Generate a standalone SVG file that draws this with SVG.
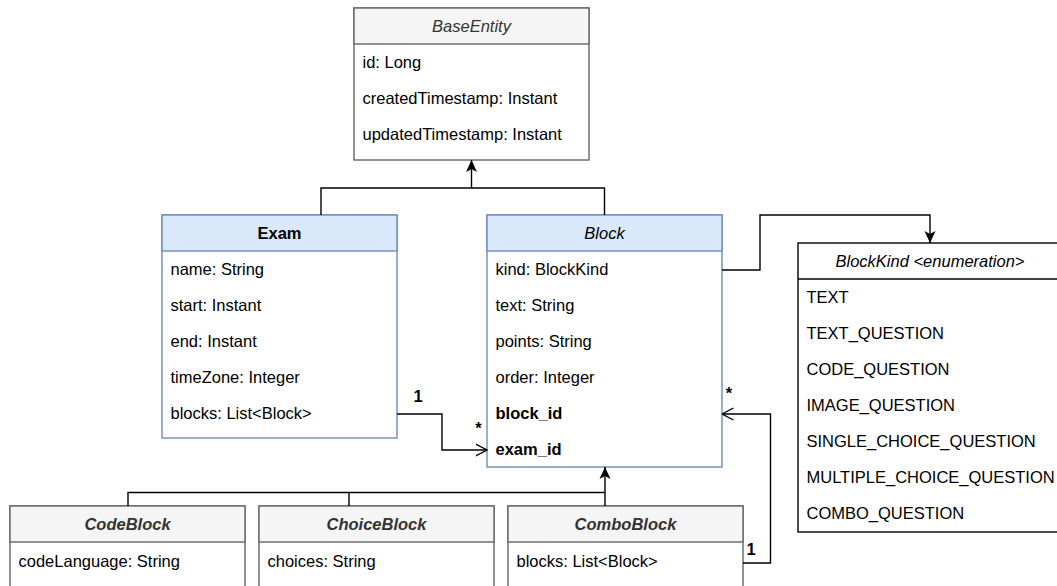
<svg xmlns="http://www.w3.org/2000/svg" width="1057" height="586" viewBox="0 0 1057 586">
<defs>
<style>
text{font-family:"Liberation Sans",Arial,Helvetica,sans-serif;font-size:16.5px;fill:#000}
.hdr{text-anchor:middle}
.it{font-style:italic}
.b{font-weight:bold}
.grey{fill:#333333}
.gh{fill:#f5f5f5;stroke:#666666;stroke-width:1.4}
.gb{fill:#ffffff;stroke:#666666;stroke-width:1.4}
.bh{fill:#dae8fc;stroke:#6c8ebf;stroke-width:1.4}
.bb{fill:#ffffff;stroke:#6c8ebf;stroke-width:1.4}
.kh{fill:#ffffff;stroke:#000000;stroke-width:1.4}
.conn{fill:none;stroke:#000;stroke-width:1.4}
.lbl{font-weight:bold;text-anchor:middle}
</style>
<marker id="tri" viewBox="0 0 12 12" refX="12" refY="6" markerWidth="12" markerHeight="12" markerUnits="userSpaceOnUse" orient="auto">
<path d="M0,0.5 L12,6 L0,11.5 L3,6 Z" fill="#000"/>
</marker>
<marker id="open" viewBox="0 0 12 14" refX="11.5" refY="7" markerWidth="12" markerHeight="14" markerUnits="userSpaceOnUse" orient="auto">
<path d="M0,1 L11.5,7 L0,13" fill="none" stroke="#000" stroke-width="1.4"/>
</marker>
</defs>

<g id="BaseEntity">
<rect class="gb" x="354" y="8" width="235" height="152"/>
<rect class="gh" x="354" y="8" width="235" height="36"/>
<text class="hdr it grey" x="471.5" y="32">BaseEntity</text>
<text x="362.5" y="68">id: Long</text>
<text x="362.5" y="104">createdTimestamp: Instant</text>
<text x="362.5" y="140">updatedTimestamp: Instant</text>
</g>

<g id="Exam">
<rect class="bb" x="162" y="215" width="235" height="223"/>
<rect class="bh" x="162" y="215" width="235" height="36"/>
<text class="hdr b" x="279.5" y="239">Exam</text>
<text x="170.5" y="275">name: String</text>
<text x="170.5" y="311">start: Instant</text>
<text x="170.5" y="347">end: Instant</text>
<text x="170.5" y="383">timeZone: Integer</text>
<text x="170.5" y="419">blocks: List&lt;Block&gt;</text>
</g>

<g id="Block">
<rect class="bb" x="487" y="215" width="235" height="252"/>
<rect class="bh" x="487" y="215" width="235" height="36"/>
<text class="hdr it" x="604.5" y="239">Block</text>
<text x="495.5" y="275">kind: BlockKind</text>
<text x="495.5" y="311">text: String</text>
<text x="495.5" y="347">points: String</text>
<text x="495.5" y="383">order: Integer</text>
<text class="b" x="495.5" y="419">block_id</text>
<text class="b" x="495.5" y="455">exam_id</text>
</g>

<g id="BlockKind">
<rect class="kh" x="798" y="243" width="265" height="289"/>
<line x1="798" y1="279" x2="1063" y2="279" stroke="#000" stroke-width="1.4"/>
<text class="hdr it" x="930" y="267">BlockKind &lt;enumeration&gt;</text>
<text x="806.5" y="303">TEXT</text>
<text x="806.5" y="339">TEXT_QUESTION</text>
<text x="806.5" y="375">CODE_QUESTION</text>
<text x="806.5" y="411">IMAGE_QUESTION</text>
<text x="806.5" y="447">SINGLE_CHOICE_QUESTION</text>
<text x="806.5" y="483">MULTIPLE_CHOICE_QUESTION</text>
<text x="806.5" y="519">COMBO_QUESTION</text>
</g>

<g id="CodeBlock">
<rect class="gb" x="10" y="506" width="235" height="100"/>
<rect class="gh" x="10" y="506" width="235" height="36"/>
<text class="hdr it b grey" x="127.5" y="530">CodeBlock</text>
<text x="18.5" y="567">codeLanguage: String</text>
</g>

<g id="ChoiceBlock">
<rect class="gb" x="259" y="506" width="235" height="100"/>
<rect class="gh" x="259" y="506" width="235" height="36"/>
<text class="hdr it b grey" x="376.5" y="530">ChoiceBlock</text>
<text x="267.5" y="567">choices: String</text>
</g>

<g id="ComboBlock">
<rect class="gb" x="508" y="506" width="235" height="100"/>
<rect class="gh" x="508" y="506" width="235" height="36"/>
<text class="hdr it b grey" x="625.5" y="530">ComboBlock</text>
<text x="516.5" y="567">blocks: List&lt;Block&gt;</text>
</g>

<g id="connectors">
<polyline class="conn" points="321,215 321,188 604.5,188 604.5,215"/>
<line class="conn" x1="471.5" y1="188" x2="471.5" y2="160" marker-end="url(#tri)"/>
<polyline class="conn" points="722,270 760,270 760,215 930,215 930,243" marker-end="url(#tri)"/>
<polyline class="conn" points="397,414 442,414 442,450 487,450" marker-end="url(#open)"/>
<polyline class="conn" points="743,563 770.5,563 770.5,414 722,414" marker-end="url(#open)"/>
<polyline class="conn" points="128,506 128,492.5 605,492.5"/>
<line class="conn" x1="349" y1="506" x2="349" y2="492.5"/>
<line class="conn" x1="605" y1="506" x2="605" y2="467" marker-end="url(#tri)"/>
<text class="lbl" x="418" y="402">1</text>
<text class="lbl" x="478.5" y="434">*</text>
<text class="lbl" x="729" y="399">*</text>
<text class="lbl" x="751" y="555">1</text>
</g>
</svg>
